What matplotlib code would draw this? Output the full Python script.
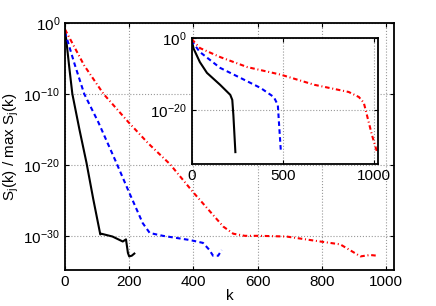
import numpy as np
import matplotlib
matplotlib.use('Agg')
import matplotlib.pyplot as plt

plt.rcParams['font.family'] = ['Liberation Sans', 'DejaVu Sans']
plt.rcParams['mathtext.fontset'] = 'custom'
plt.rcParams['mathtext.rm'] = 'Liberation Sans'
plt.rcParams['mathtext.it'] = 'Liberation Sans'

# main axes data (k, log10 of normalised spectrum)
k_black = [0, 6, 14, 23, 45, 67, 88, 110, 113, 148, 180, 190, 196, 200, 208, 216]
y_black = [-0.9, -3.2, -6.5, -10.0, -15.0, -19.7, -24.8, -29.8, -29.7, -30.1, -30.8, -30.5, -32.4, -32.9, -32.8, -32.5]

k_blue = [0, 10, 30, 60, 104, 160, 200, 242, 264, 305, 390, 430, 450, 461, 477, 488]
y_blue = [-1.3, -2.8, -5.8, -10.0, -14.0, -19.7, -23.9, -28.2, -29.6, -30.0, -30.6, -31.0, -32.0, -32.8, -32.8, -32.0]

k_red = [0, 20, 60, 120, 198, 260, 327, 400, 493, 524, 560, 607, 690, 795, 857, 898, 920, 950, 972]
y_red = [-0.9, -2.6, -6.0, -10.0, -14.0, -17.0, -19.9, -23.9, -28.7, -29.7, -30.0, -30.0, -30.1, -30.8, -31.2, -32.3, -32.9, -32.7, -32.8]

# inset data
ki_black = [0, 10, 44, 83, 155, 211, 222, 228, 239]
yi_black = [-0.8, -3.0, -6.7, -9.7, -13.0, -15.8, -17.2, -21.4, -31.7]

ki_blue = [0, 10, 44, 155, 267, 378, 450, 472, 478, 489]
yi_blue = [-0.6, -1.6, -3.9, -8.3, -11.1, -13.9, -16.4, -18.6, -23.3, -31.7]

ki_red = [0, 15, 44, 155, 305, 489, 672, 861, 917, 944, 961, 989, 1017]
yi_red = [-0.3, -1.2, -2.8, -5.3, -8.1, -10.2, -13.0, -15.0, -16.4, -18.0, -21.4, -27.0, -31.7]

fig = plt.figure(figsize=(4.36, 3.06), dpi=100)
ax = fig.add_axes([0.149, 0.118, 0.755, 0.807])

lw = 1.5
blue_dash = (2.2, 1.6)
red_dash = (2.2, 1.3, 0.5, 1.3)


def draw(a, kb, yb, kbl, ybl, kr, yr):
    a.semilogy(kb, 10.0 ** np.array(yb), 'k-', lw=lw)
    a.semilogy(kbl, 10.0 ** np.array(ybl), 'b--', lw=lw, dashes=blue_dash)
    a.semilogy(kr, 10.0 ** np.array(yr), 'r-.', lw=lw, dashes=red_dash)


draw(ax, k_black, y_black, k_blue, y_blue, k_red, y_red)
ax.set_xlim(0, 1025)
ax.set_ylim(10 ** -34.8, 1)
ax.set_xticks([0, 200, 400, 600, 800, 1000])
ax.set_yticks([1e-30, 1e-20, 1e-10, 1e0])
ax.set_yticklabels([r'$10^{-30}$', r'$10^{-20}$', r'$10^{-10}$', r'$10^{0}$'])
ax.minorticks_off()
ax.grid(True, color='#999999', ls=':', lw=0.8)
ax.tick_params(direction='in', top=True, right=True, labelsize=11, length=3)
ax.set_xlabel('k', fontsize=11, labelpad=0)
ax.set_ylabel(r'S$_\mathrm{j}$(k) / max S$_\mathrm{j}$(k)', fontsize=11, labelpad=2)
for s in ax.spines.values():
    s.set_linewidth(1.3)

# inset
axi = fig.add_axes([0.440, 0.464, 0.427, 0.412])
draw(axi, ki_black, yi_black, ki_blue, yi_blue, ki_red, yi_red)
axi.set_xlim(0, 1022)
axi.set_ylim(1e-35, 1)
axi.set_xticks([0, 500, 1000])
axi.set_yticks([1e-20, 1e0])
axi.set_yticklabels([r'$10^{-20}$', r'$10^{0}$'])
axi.minorticks_off()
axi.grid(True, color='#999999', ls=':', lw=0.8)
axi.tick_params(direction='in', top=True, right=True, labelsize=11, length=3)
for s in axi.spines.values():
    s.set_linewidth(1.3)

fig.savefig('out.png', dpi=100)
